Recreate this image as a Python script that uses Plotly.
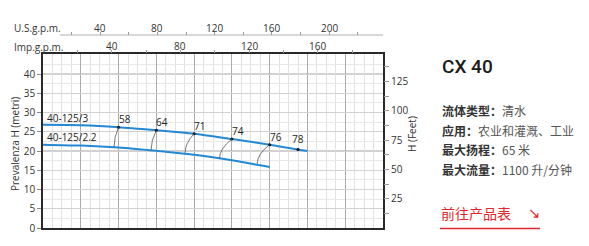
import plotly.graph_objects as go

# ---------------- data ----------------
flow_lpm_a = [0, 100, 200, 300, 400, 500, 600, 700]
head_a = [26.8, 26.7, 26.2, 25.4, 24.5, 23.1, 21.65, 20.0]
flow_lpm_b = [0, 100, 200, 300, 400, 500, 600]
head_b = [21.65, 21.4, 20.9, 20.05, 19.05, 17.6, 15.85]
series_names = ["40-125/3", "40-125/2.2"]

eff_labels = ["58", "64", "71", "74", "76"]
eff_q_top = [200, 300, 400, 500, 600]
eff_h_top = [26.2, 25.4, 24.5, 23.1, 21.65]
eff_q_bot = [188, 286, 376, 467, 567]
eff_h_bot = [20.95, 20.15, 19.5, 18.0, 16.7]
eff_end_label = "78"
eff_end_q = 675
eff_end_h = 20.4

h_ticks_m = [0, 5, 10, 15, 20, 25, 30, 35, 40]
imp_ticks = [20, 40, 60, 80, 100, 120, 140, 160, 180]
imp_label_vals = [40, 80, 120, 160]
us_ticks = [20, 40, 60, 80, 100, 120, 140, 160, 180, 200, 220]
us_label_vals = [40, 80, 120, 160, 200]
feet_ticks = [12.5, 25, 37.5, 50, 62.5, 75, 87.5, 100, 112.5, 125, 137.5]
feet_labels = ["", "25", "", "50", "", "75", "", "100", "", "125", ""]

info_lines = [("流体类型：", "清水"), ("应用：", "农业和灌溉、工业"),
              ("最大扬程：", "65 米"), ("最大流量：", "1100 升/分钟")]
title_text = "CX 40"
link_text = "前往产品表"

LPM_PER_IMP = 4.54609
LPM_PER_US = 3.78541
M_PER_FT = 0.3048
X_MAX = 900
Y_MAX = 45.2

# ---------------- layout geometry (pixels) ----------------
W, H = 589, 246
L, R, T, B = 43, 383, 30, 228   # paper box
PLOT_TOP = 54


def px(xp):
    return (xp - L) / (R - L)


def py(yp):
    return (B - yp) / (B - T)


BLUE = "#2389d4"
DARK = "#333333"
FONT = "Open Sans"
CJK = "Noto Sans CJK SC"

fig = go.Figure()

fig.add_trace(go.Scatter(x=flow_lpm_a, y=head_a, mode="lines",
                         line=dict(color=BLUE, width=2, shape="spline", smoothing=0.8),
                         hoverinfo="skip", showlegend=False))
fig.add_trace(go.Scatter(x=flow_lpm_b, y=head_b, mode="lines",
                         line=dict(color=BLUE, width=2, shape="spline", smoothing=0.8),
                         hoverinfo="skip", showlegend=False))

# iso-efficiency arcs
shapes = []
for qt, ht, qb, hb in zip(eff_q_top, eff_h_top, eff_q_bot, eff_h_bot):
    cx = qb
    cy = ht - 0.5 * (ht - hb)
    shapes.append(dict(type="path", xref="x", yref="y",
                       path=f"M {qt},{ht} Q {cx},{cy} {qb},{hb}",
                       line=dict(color="#555555", width=0.8), layer="above"))

fig.add_trace(go.Scatter(x=eff_q_top + [eff_end_q], y=eff_h_top + [eff_end_h],
                         mode="markers", marker=dict(color="#111111", size=3),
                         hoverinfo="skip", showlegend=False))

# dark major horizontal lines every 10 m
for v in [10, 20, 30, 40]:
    shapes.append(dict(type="line", xref="paper", yref="y", x0=0, x1=1, y0=v, y1=v,
                       line=dict(color="#a0a0a0", width=1), layer="between"))

# US gpm axis line
shapes.append(dict(type="line", xref="paper", yref="paper", x0=px(60), x1=1,
                   y0=py(35), y1=py(35), line=dict(color="#b0b0b0", width=1)))
# red underline
shapes.append(dict(type="line", xref="paper", yref="paper", x0=px(440), x1=px(540),
                   y0=py(228.5), y1=py(228.5), line=dict(color="#e3262c", width=1.5)))

annotations = []
for lab, q, h in zip(eff_labels, eff_q_top, eff_h_top):
    annotations.append(dict(x=q, y=h, xref="x", yref="y", text=lab, showarrow=False,
                            xanchor="left", yanchor="bottom", xshift=-2, yshift=-1,
                            font=dict(family=FONT, size=10, color="#222")))
annotations.append(dict(x=eff_end_q, y=eff_end_h, xref="x", yref="y", text=eff_end_label,
                        showarrow=False, xanchor="center", yanchor="bottom", yshift=1,
                        font=dict(family=FONT, size=10, color="#222")))

# top axis tick labels
for v in imp_label_vals:
    annotations.append(dict(x=v, y=py(46), xref="x2", yref="paper", text=str(v),
                            showarrow=False, xanchor="center", yanchor="middle",
                            font=dict(family=FONT, size=10, color=DARK)))
for v in us_label_vals:
    annotations.append(dict(x=v, y=py(28), xref="x3", yref="paper", text=str(v),
                            showarrow=False, xanchor="center", yanchor="middle",
                            font=dict(family=FONT, size=10, color=DARK)))

annotations.append(dict(x=px(45), y=py(118), xref="paper", yref="paper", text=series_names[0],
                        showarrow=False, xanchor="left", yanchor="middle",
                        font=dict(family=FONT, size=10, color="#222")))
annotations.append(dict(x=px(45), y=py(137), xref="paper", yref="paper", text=series_names[1],
                        showarrow=False, xanchor="left", yanchor="middle",
                        font=dict(family=FONT, size=10, color="#222")))

annotations.append(dict(x=px(12), y=py(28), xref="paper", yref="paper", text="U.S.g.p.m.",
                        showarrow=False, xanchor="left", yanchor="middle",
                        font=dict(family=FONT, size=10, color=DARK)))
annotations.append(dict(x=px(12), y=py(47), xref="paper", yref="paper", text="Imp.g.p.m.",
                        showarrow=False, xanchor="left", yanchor="middle",
                        font=dict(family=FONT, size=10, color=DARK)))
annotations.append(dict(x=px(15), y=py(144), xref="paper", yref="paper",
                        text="Prevalenza H (metri)", textangle=-90,
                        showarrow=False, xanchor="center", yanchor="middle",
                        font=dict(family=FONT, size=10, color=DARK)))
annotations.append(dict(x=px(412), y=py(134), xref="paper", yref="paper",
                        text="H (Feet)", textangle=-90,
                        showarrow=False, xanchor="center", yanchor="middle",
                        font=dict(family=FONT, size=10, color=DARK)))

# right info panel
annotations.append(dict(x=px(440), y=py(66), xref="paper", yref="paper", text=title_text,
                        showarrow=False, xanchor="left", yanchor="middle",
                        font=dict(family="Roboto", size=19, color="#1a1a1a", weight=500)))
for i, (k, v) in enumerate(info_lines):
    annotations.append(dict(x=px(440), y=py(110.5 + 19.6 * i), xref="paper", yref="paper",
                            text=f"<b>{k}</b><span style='color:#555555'>{v}</span>",
                            showarrow=False, xanchor="left", yanchor="middle",
                            font=dict(family=CJK, size=12, color="#333333")))
annotations.append(dict(x=px(439), y=py(212.5), xref="paper", yref="paper", text=link_text,
                        showarrow=False, xanchor="left", yanchor="middle",
                        font=dict(family=CJK, size=14, color="#e3262c")))
annotations.append(dict(x=px(534), y=py(212.5), xref="paper", yref="paper", text="↘",
                        showarrow=False, xanchor="center", yanchor="middle",
                        font=dict(family="DejaVu Sans", size=15, color="#e3262c")))

ydom = [0, py(PLOT_TOP)]

fig.update_layout(
    width=W, height=H,
    margin=dict(l=L, r=W - R, t=T, b=H - B, pad=0),
    paper_bgcolor="white", plot_bgcolor="white",
    showlegend=False,
    shapes=shapes, annotations=annotations,
    font=dict(family=FONT, size=10, color=DARK),
    xaxis=dict(range=[0, X_MAX], domain=[0, 1], dtick=100, tick0=0,
               showgrid=True, gridcolor="#ababab", gridwidth=1,
               minor=dict(dtick=25, showgrid=True, gridcolor="#e2e2e2", gridwidth=1),
               showticklabels=False, ticks="", zeroline=False,
               showline=True, linecolor="#2a2a2a", linewidth=1.6, mirror=True),
    yaxis=dict(range=[0, Y_MAX], domain=ydom, tickvals=h_ticks_m,
               showgrid=True, gridcolor="#d2d2d2", gridwidth=1,
               minor=dict(dtick=2.5, showgrid=True, gridcolor="#e8e8e8", gridwidth=1, ticks=""),
               ticks="outside", ticklen=4, tickcolor="#888", tickwidth=1,
               tickfont=dict(family=FONT, size=10, color=DARK),
               zeroline=False,
               showline=True, linecolor="#2a2a2a", linewidth=1.6, mirror=True),
    xaxis2=dict(overlaying="x", side="top", anchor="y",
                range=[0, X_MAX / LPM_PER_IMP], tickvals=imp_ticks,
                showticklabels=False,
                ticks="outside", ticklen=3, tickcolor="#999", showgrid=False,
                showline=False, zeroline=False),
    xaxis3=dict(overlaying="x", side="top", anchor="free", position=py(35),
                range=[0, X_MAX / LPM_PER_US], tickvals=us_ticks,
                showticklabels=False,
                ticks="outside", ticklen=3, tickcolor="#999", showgrid=False,
                showline=False, zeroline=False),
    yaxis2=dict(overlaying="y", side="right", anchor="x",
                range=[0, Y_MAX / M_PER_FT], tickvals=feet_ticks, ticktext=feet_labels,
                ticks="outside", ticklen=5, tickcolor="#999", showgrid=False,
                showline=False, zeroline=False,
                tickfont=dict(family=FONT, size=10, color=DARK)),
)

# invisible traces to activate the extra axes
fig.add_trace(go.Scatter(x=[None], y=[None], xaxis="x2", yaxis="y", showlegend=False, hoverinfo="skip"))
fig.add_trace(go.Scatter(x=[None], y=[None], xaxis="x3", yaxis="y", showlegend=False, hoverinfo="skip"))
fig.add_trace(go.Scatter(x=[None], y=[None], xaxis="x", yaxis="y2", showlegend=False, hoverinfo="skip"))

fig.write_html("out.html")
